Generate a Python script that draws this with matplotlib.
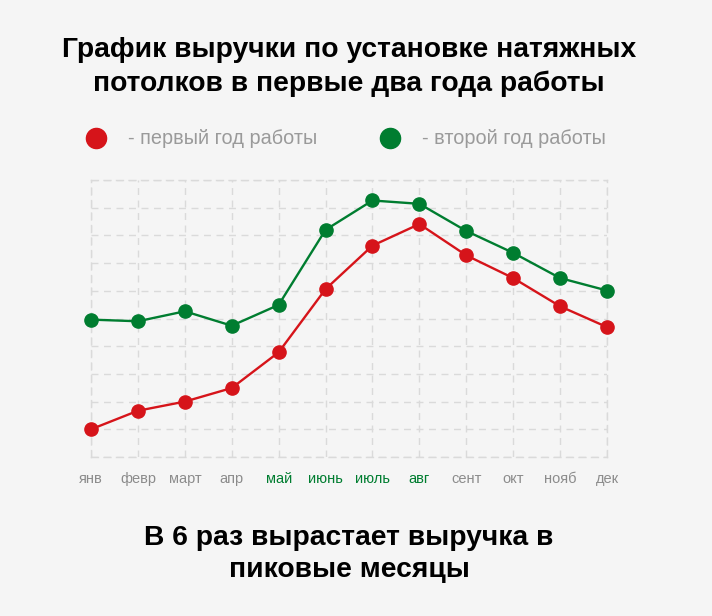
import matplotlib
matplotlib.use("Agg")
import matplotlib.pyplot as plt
from matplotlib.lines import Line2D

months = ["янв", "февр", "март", "апр", "май", "июнь", "июль", "авг", "сент", "окт", "нояб", "дек"]
first_year = [1.0, 1.67, 2.0, 2.49, 3.78, 6.06, 7.63, 8.41, 7.28, 6.46, 5.44, 4.69]
second_year = [4.96, 4.9, 5.26, 4.74, 5.49, 8.2, 9.26, 9.14, 8.16, 7.37, 6.46, 6.01]
peak_months = ["май", "июнь", "июль", "авг"]

RED = "#d6141a"
GREEN = "#007d30"
BG = "#f5f5f5"

plt.rcParams['font.family'] = ['Liberation Sans', 'DejaVu Sans']

fig = plt.figure(figsize=(7.12, 6.16), dpi=100, facecolor=BG)
W, H = 712, 616
ax = fig.add_axes([91 / W, 1 - 457 / H, (607 - 91) / W, (457 - 180) / H])
ax.set_facecolor(BG)

x = list(range(len(months)))
ax.plot(x, first_year, color=RED, lw=1.7, marker="o", ms=9.5, zorder=3, clip_on=False)
ax.plot(x, second_year, color=GREEN, lw=1.7, marker="o", ms=9.5, zorder=3, clip_on=False)

ax.set_xlim(0, len(months) - 1)
ax.set_ylim(0, 10)
ax.set_xticks(x)
ax.set_xticklabels(months)
ax.set_yticks(range(0, 11))
ax.set_yticklabels([])
ax.tick_params(axis='both', length=0)
ax.tick_params(axis='x', pad=11, labelsize=10.5)
for lbl in ax.get_xticklabels():
    lbl.set_color(GREEN if lbl.get_text() in peak_months else "#8c8c8c")
ax.grid(True, color="#dadada", linestyle=(0, (5, 4)), lw=1)
for s in ax.spines.values():
    s.set_visible(True)
    s.set_color("#dadada")
    s.set_linestyle((0, (5, 4)))
    s.set_linewidth(1)

fig.text(349 / W, 1 - 67 / H, "График выручки по установке натяжных\nпотолков в первые два года работы",
         ha="center", va="center", fontsize=20.3, fontweight="bold", color="black", linespacing=1.36)

# legend
fig.add_artist(Line2D([96 / W], [1 - 138 / H], marker="o", ms=14.5, color=RED, transform=fig.transFigure))
fig.text(128 / W, 1 - 138 / H, "- первый год работы", ha="left", va="center", fontsize=14.3, color="#9a9a9a")
fig.add_artist(Line2D([390 / W], [1 - 138 / H], marker="o", ms=14.5, color=GREEN, transform=fig.transFigure))
fig.text(422 / W, 1 - 138 / H, "- второй год работы", ha="left", va="center", fontsize=14.3, color="#9a9a9a")

fig.text(349 / W, 1 - 554 / H, "В 6 раз вырастает выручка в\nпиковые месяцы",
         ha="center", va="center", fontsize=20.3, fontweight="bold", color="black", linespacing=1.34)

fig.savefig("out.png", dpi=100, facecolor=BG)
